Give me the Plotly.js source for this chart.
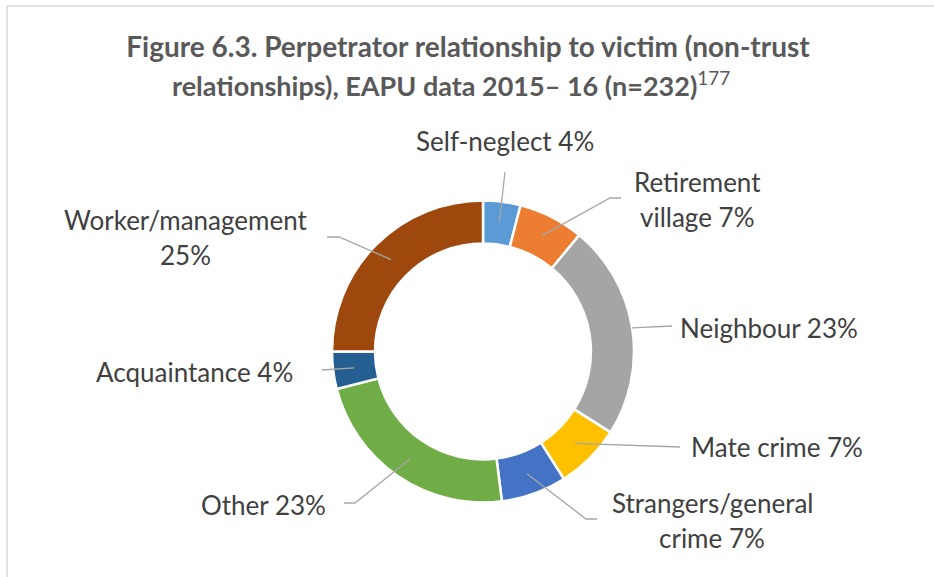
<!DOCTYPE html>
<html>
<head>
<meta charset="utf-8">
<script src="https://cdn.plot.ly/plotly-3.0.1.min.js"></script>
<style>html,body{margin:0;padding:0;background:#fff;}#chart{width:934px;height:577px;}</style>
</head>
<body>
<div id="chart"></div>
<script>
// ---- Data ----
var categories = ["Self-neglect", "Retirement village", "Neighbour", "Mate crime",
                  "Strangers/general crime", "Other", "Acquaintance", "Worker/management"];
var percents = [4, 7, 23, 7, 7, 23, 4, 25];
var colors = ["#5b9bd5", "#ed7d31", "#a5a5a5", "#ffc000", "#4472c4", "#70ad47", "#255e91", "#9e480e"];
var titleLine1 = "Figure 6.3. Perpetrator relationship to victim (non-trust";
var titleLine2 = "relationships), EAPU data 2015– 16 (n=232)<sup><span style='font-weight:normal'>177</span></sup>";

// ---- Layout configuration (pixel positions) ----
var W = 934, H = 577;
var CX = 483, CY = 351.5, R = 151, HOLE = 0.715;
// how each label is split into lines
var labelBreaks = ["Self-neglect", "Retirement<br>village", "Neighbour", "Mate crime",
                   "Strangers/general<br>crime", "Other", "Acquaintance", "Worker/management<br>"];
// label centre (first line) and leader-line path points after the tip
var labelPos = [
  {x: 505, y: 141, tipR: 130, pts: [[505, 172]]},
  {x: 697, y: 182, tipR: 130, pts: [[610, 198], [621, 198]]},
  {x: 769, y: 328, tipR: 151, pts: [[672, 326]]},
  {x: 777, y: 447, tipR: 130, pts: [[680, 447]]},
  {x: 712, y: 503, tipR: 130, pts: [[586, 519], [597, 519]]},
  {x: 263, y: 505, tipR: 130, pts: [[355, 503], [344, 503]]},
  {x: 194, y: 372, tipR: 130, pts: [[322, 370]]},
  {x: 185, y: 220, tipR: 130, pts: [[339, 237], [327, 237]]}
];
var LINE_GAP = 35;
var FONT = "Lato, 'Open Sans', sans-serif";

function px(x) { return x / W; }
function py(y) { return 1 - y / H; }

var total = percents.reduce(function (a, b) { return a + b; }, 0);
var annotations = [];
var shapes = [];
var cum = 0;
percents.forEach(function (v, i) {
  var mid = (cum + v / 2) / total * 2 * Math.PI;
  cum += v;
  var p = labelPos[i];
  var tx = CX + p.tipR * Math.sin(mid);
  var ty = CY - p.tipR * Math.cos(mid);
  var path = "M" + px(tx) + "," + py(ty);
  p.pts.forEach(function (q) { path += " L" + px(q[0]) + "," + py(q[1]); });
  shapes.push({type: "path", xref: "paper", yref: "paper", path: path,
               line: {color: "#a6a6a6", width: 1.3}});
  var txt = labelBreaks[i] + (labelBreaks[i].slice(-4) === "<br>" ? "" : " ") + v + "%";
  txt.split("<br>").forEach(function (line, k) {
    annotations.push({
      xref: "paper", yref: "paper", x: px(p.x), y: py(p.y + k * LINE_GAP),
      xanchor: "center", yanchor: "middle", showarrow: false, text: line,
      font: {family: FONT, size: 26, color: "#404040"}
    });
  });
});

// second title line
annotations.push({
  xref: "paper", yref: "paper", x: px(451), y: py(84), xanchor: "center", yanchor: "middle",
  showarrow: false, text: "<b>" + titleLine2 + "</b>",
  font: {family: FONT, size: 27, color: "#595959"}
});

// chart frame (partially visible)
shapes.push({type: "path", xref: "paper", yref: "paper",
  path: "M" + px(7) + "," + py(H + 5) + " L" + px(7) + "," + py(6) + " L" + px(W + 5) + "," + py(6),
  line: {color: "#d9d9d9", width: 1.5}});

var trace = {
  type: "pie",
  labels: categories,
  values: percents,
  sort: false,
  direction: "clockwise",
  rotation: 0,
  hole: HOLE,
  textinfo: "none",
  hoverinfo: "label+percent",
  marker: {colors: colors, line: {color: "#ffffff", width: 2.5}},
  domain: {x: [px(CX - R), px(CX + R)], y: [py(CY + R), py(CY - R)]},
  showlegend: false
};

var layout = {
  width: W, height: H,
  margin: {l: 0, r: 0, t: 0, b: 0},
  paper_bgcolor: "#ffffff",
  title: {
    text: "<b>" + titleLine1 + "</b>",
    x: px(468), xanchor: "center", y: py(47), yanchor: "middle", yref: "paper",
    font: {family: FONT, size: 28, color: "#595959"}
  },
  annotations: annotations,
  shapes: shapes,
  showlegend: false
};

Plotly.newPlot("chart", [trace], layout, {displayModeBar: false, staticPlot: true});
</script>
</body>
</html>
